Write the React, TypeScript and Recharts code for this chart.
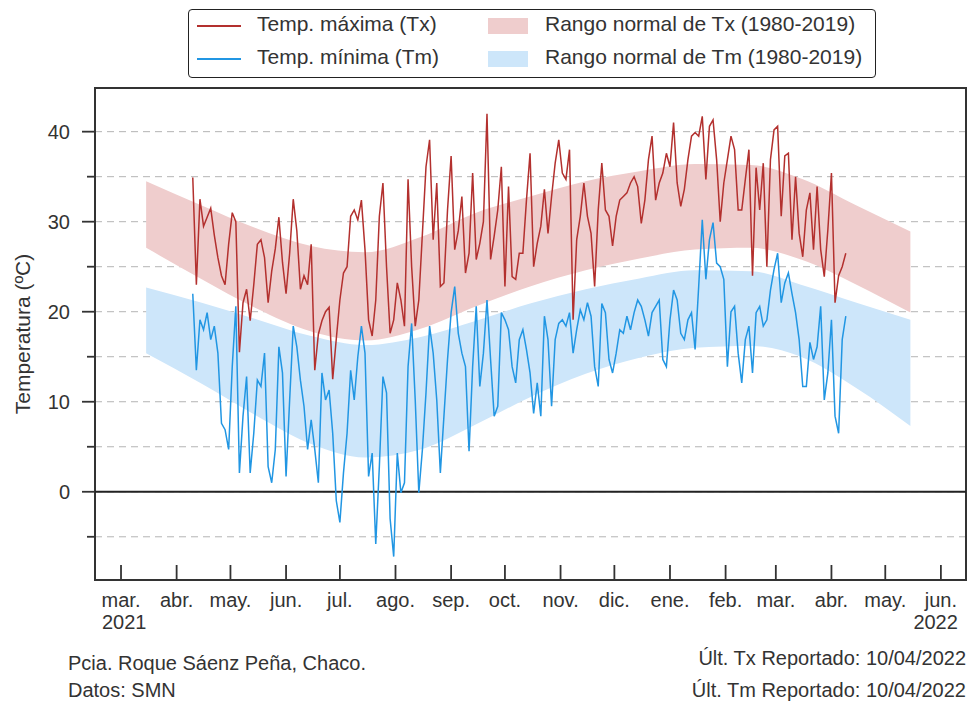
import React from 'react';
import { ComposedChart, Line, Area, XAxis, YAxis, CartesianGrid, ReferenceLine, ReferenceArea } from 'recharts';

// daily observations, sampled every 2 days from the first report
const SERIES_START = '2021-04-10';
const STEP_DAYS = 2;

const TX = [
  34.9, 23, 32.5, 29.5, 30.5, 31.5, 28.5, 26, 24, 23,
  27.5, 31, 30, 15.5, 21, 22.5, 19, 23, 27.5, 28,
  26, 21, 24.5, 27, 30.5, 25.5, 22, 26.5, 32.5, 29,
  22.5, 24, 23, 27.5, 13.5, 17.5, 19, 20,
  20.5, 12.5, 17, 21.3, 24.3, 25, 30.6, 31.3, 30.2, 32.4,
  26.9, 19.1, 17.3, 21.3, 30.6, 34.3, 25, 17.6, 19.1, 23.2,
  21.3, 18.4, 34.7, 25, 18.4, 21.3, 28.7, 36.1, 39.1, 28,
  34.3, 22.8, 23.2, 31.3, 37.3, 26.9,
  29, 32.8, 24.3, 26.5, 35.4, 25.8, 27.6, 30, 42, 25.8,
  28.4, 31.3, 36.1, 22.8, 33.9, 23.9, 23.6, 26.5, 26.5, 32.4,
  37.6, 25, 27.6, 29.5, 33.6, 28.7, 32.8, 36.5, 39.1, 35.4,
  34.7, 38, 19.1, 28, 30.6, 34.3, 30.6,
  28.7, 22.8, 31.3, 36.5, 31.3, 30.6, 27.3, 30.6, 32.4, 32.8,
  33.2, 34.3, 35, 33.9, 29.8, 32.4, 36.9, 39.5, 32.4, 34.3,
  35.4, 37.6, 36.1, 41, 34.3, 31.7, 33.6, 36.9, 39.5, 39.9,
  39.5, 41.7, 34.7, 40.6, 41.3, 36.9,
  30, 34.3, 36.9, 39.5, 38, 31.3, 31.3, 34.7, 38, 24,
  36, 31.3, 36.5, 25, 36.9, 40.2, 40.6, 30.6, 37.3, 37.6,
  28, 35, 28.7, 26.1, 31.3, 33.2, 26.9, 33.9, 26.9, 23.9,
  29.1, 35.4, 21, 24, 25, 26.5,
];

const TM = [
  22, 13.5, 19.1, 18, 19.9, 16.9, 18.4, 15.4, 7.6, 6.9,
  4.7, 13.9, 20.6, 2.1, 8.4, 12.8, 2.1, 6.5, 12.4, 11.7,
  15.4, 2.8, 1, 4.7, 16.1, 13.2, 1.7, 10.2, 18.4, 16.1,
  12.4, 9.5, 4.7, 8, 4.7, 1, 13.2, 10.2,
  11.3, 6.5, -1, -3.4, 2.1, 6.5, 13.5, 10.2, 15, 18.4,
  15.4, 1.7, 4.3, -5.8, 2.8, 12.8, 11, -3, -7.2, 4.3,
  -0.1, 1, 13.9, 18.7, 10.2, -0.1, 4.7, 11, 18.4, 15.4,
  10.2, 2.1, 8.4, 14.7, 19.9, 22.8,
  17.6, 15.4, 13.9, 4.5, 13.9, 20.6, 11.7, 15.4, 21.3, 14.7,
  8.4, 9.5, 19.9, 19.1, 18, 13.9, 12.1, 16.9, 18, 15.8,
  13.2, 8.7, 12.1, 8.4, 19.5, 16.9, 9.5, 16.9, 18.7, 19.1,
  18.4, 19.9, 15.4, 18, 20.2, 19.1, 21,
  19.5, 13.9, 11.7, 20.9, 19.9, 14.7, 13.2, 15.4, 18, 17.6,
  19.5, 18, 19.9, 21.3, 20.6, 19.1, 17.3, 19.9, 20.6, 21.3,
  14.7, 13.9, 19.1, 22.4, 21.3, 17.6, 16.9, 19.1, 19.9, 15.8,
  22.8, 30.2, 23.6, 28, 29.9, 25.4,
  25, 23.6, 13.9, 20, 20.6, 15.4, 12.1, 16.9, 18.4, 13.2,
  19.9, 20.6, 18.4, 19.1, 22.4, 24.7, 26.5, 21, 23.2, 24.3,
  22, 19.9, 16.9, 11.7, 11.7, 16.6, 14.7, 16.1, 20.6, 10.2,
  13.2, 19.1, 8.4, 6.5, 16.9, 19.5,
];

// normal ranges 1980-2019, mid-month
const NORMAL_DATES = [
  '2021-03-15', '2021-04-15', '2021-05-15', '2021-06-15', '2021-07-15', '2021-08-15',
  '2021-09-15', '2021-10-15', '2021-11-15', '2021-12-15', '2022-01-15', '2022-02-15',
  '2022-03-15', '2022-04-15', '2022-05-15',
];
const TX_NORMAL_HI = [34.5, 31.8, 29.3, 27.3, 26.6, 28.3, 31, 32.8, 34.5, 35.6, 36.4, 36.3, 34.8, 31.8, 28.9];
const TX_NORMAL_LO = [27.1, 23.6, 20.4, 17.8, 16.8, 18.1, 20.6, 22.8, 24.6, 25.9, 26.9, 27.1, 25.8, 23, 19.9];
const TM_NORMAL_HI = [22.7, 21, 19.2, 17.3, 16.3, 17.2, 19, 20.9, 22.5, 23.7, 24.6, 24.5, 23, 21, 19.1];
const TM_NORMAL_LO = [15.4, 12, 8.5, 5.3, 3.8, 4.7, 7.5, 10.5, 13.1, 14.9, 16, 16.2, 15, 11.5, 7.3];

const MONTH_TICKS = [
  '2021-03-01', '2021-04-01', '2021-05-01', '2021-06-01', '2021-07-01', '2021-08-01',
  '2021-09-01', '2021-10-01', '2021-11-01', '2021-12-01', '2022-01-01', '2022-02-01',
  '2022-03-01', '2022-04-01', '2022-05-01', '2022-06-01',
];
const MONTH_LABELS = ['mar.', 'abr.', 'may.', 'jun.', 'jul.', 'ago.', 'sep.', 'oct.', 'nov.', 'dic.', 'ene.', 'feb.', 'mar.', 'abr.', 'may.', 'jun.'];
const Y_TICKS = [-5, 0, 5, 10, 15, 20, 25, 30, 35, 40];

const FONT = '"Liberation Sans", Arial, Helvetica, sans-serif';
const INK = '#333333';
const TX_COLOR = '#b3302e';
const TM_COLOR = '#2196e3';
const TX_BAND = '#efcdcd';
const TM_BAND = '#cde6fa';

const PLOT_LEFT = 95;
const PLOT_BOTTOM = 580;
const X_DOMAIN = [-14.5, 471];
const Y_DOMAIN = [-9.8, 44.85];

const ORIGIN = Date.UTC(2021, 2, 1);
const dayOf = (iso: string) => Math.round((Date.parse(iso) - ORIGIN) / 86400000);

const firstDay = dayOf(SERIES_START);
const obsData = TX.map((tx, i) => ({ day: firstDay + i * STEP_DAYS, tx, tm: TM[i] }));
const normalData = NORMAL_DATES.map((d, i) => ({
  day: dayOf(d),
  txRange: [TX_NORMAL_LO[i], TX_NORMAL_HI[i]],
  tmRange: [TM_NORMAL_LO[i], TM_NORMAL_HI[i]],
}));
const monthDays = MONTH_TICKS.map(dayOf);

const MonthTick = (props: any) => {
  const { x, payload } = props;
  const i = monthDays.indexOf(payload.value);
  return (
    <g>
      <line x1={x} x2={x} y1={PLOT_BOTTOM} y2={PLOT_BOTTOM - 15} stroke={INK} strokeWidth={1.8} />
      <text x={x} y={607} textAnchor="middle" fontSize={20} fill={INK} fontFamily={FONT}>{MONTH_LABELS[i]}</text>
      {i === 0 && (
        <text x={x - 19} y={629} textAnchor="start" fontSize={20} fill={INK} fontFamily={FONT}>2021</text>
      )}
      {i === MONTH_TICKS.length - 1 && (
        <text x={x + 17} y={629} textAnchor="end" fontSize={20} fill={INK} fontFamily={FONT}>2022</text>
      )}
    </g>
  );
};

const TempTick = (props: any) => {
  const { y, payload } = props;
  const major = payload.value % 10 === 0;
  return (
    <g>
      <line x1={PLOT_LEFT} x2={PLOT_LEFT - (major ? 13 : 8)} y1={y} y2={y} stroke={INK} strokeWidth={1.8} />
      {major && (
        <text x={70} y={y} textAnchor="end" dominantBaseline="central" fontSize={20} fill={INK} fontFamily={FONT}>
          {payload.value}
        </text>
      )}
    </g>
  );
};

const textStyle: React.CSSProperties = {
  position: 'absolute',
  fontSize: 20,
  color: INK,
  whiteSpace: 'nowrap',
  lineHeight: '24px',
};

export default function App() {
  return (
    <div style={{ position: 'absolute', left: 0, top: 0, width: 972, height: 704, background: '#fff', fontFamily: FONT }}>
      <ComposedChart width={972} height={704} margin={{ top: 88, right: 6, bottom: 0, left: 0 }}>
        <CartesianGrid vertical={false} strokeDasharray="7 5" stroke="#b4b4b4" strokeWidth={1} />
        <XAxis
          type="number"
          dataKey="day"
          domain={X_DOMAIN}
          ticks={monthDays}
          interval={0}
          allowDataOverflow
          height={124}
          axisLine={false}
          tickLine={false}
          tick={<MonthTick />}
        />
        <YAxis
          type="number"
          domain={Y_DOMAIN}
          ticks={Y_TICKS}
          interval={0}
          allowDataOverflow
          width={95}
          axisLine={false}
          tickLine={false}
          tick={<TempTick />}
        />
        <Area
          data={normalData}
          dataKey="txRange"
          type="monotone"
          stroke="none"
          fill={TX_BAND}
          fillOpacity={1}
          isAnimationActive={false}
        />
        <Area
          data={normalData}
          dataKey="tmRange"
          type="monotone"
          stroke="none"
          fill={TM_BAND}
          fillOpacity={1}
          isAnimationActive={false}
        />
        <ReferenceLine y={0} stroke="#222" strokeWidth={2} />
        <Line data={obsData} dataKey="tx" type="linear" stroke={TX_COLOR} strokeWidth={1.5} dot={false} isAnimationActive={false} />
        <Line data={obsData} dataKey="tm" type="linear" stroke={TM_COLOR} strokeWidth={1.5} dot={false} isAnimationActive={false} />
        <ReferenceArea x1={X_DOMAIN[0]} x2={X_DOMAIN[1]} y1={Y_DOMAIN[0]} y2={Y_DOMAIN[1]} fill="none" stroke={INK} strokeWidth={2} ifOverflow="extendDomain" />
      </ComposedChart>

      {/* legend */}
      <div style={{ position: 'absolute', left: 188, top: 9, width: 688, height: 69, border: '1.5px solid #222', borderRadius: 4, boxSizing: 'border-box', background: '#fff' }}>
        <div style={{ position: 'absolute', left: 8, top: 15, width: 44, height: 1.5, background: TX_COLOR }} />
        <div style={{ ...textStyle, fontSize: 21, left: 68, top: 2 }}>Temp. máxima (Tx)</div>
        <div style={{ position: 'absolute', left: 8, top: 48, width: 44, height: 1.5, background: TM_COLOR }} />
        <div style={{ ...textStyle, fontSize: 21, left: 68, top: 35 }}>Temp. mínima (Tm)</div>
        <div style={{ position: 'absolute', left: 299, top: 8, width: 40, height: 16, background: TX_BAND }} />
        <div style={{ ...textStyle, fontSize: 21, left: 356, top: 2 }}>Rango normal de Tx (1980-2019)</div>
        <div style={{ position: 'absolute', left: 299, top: 41, width: 40, height: 16, background: TM_BAND }} />
        <div style={{ ...textStyle, fontSize: 21, left: 356, top: 35 }}>Rango normal de Tm (1980-2019)</div>
      </div>

      {/* y label */}
      <div style={{ ...textStyle, fontSize: 21, left: 23, top: 334, transform: 'translate(-50%, -50%) rotate(-90deg)' }}>
        Temperatura (ºC)
      </div>

      {/* footer */}
      <div style={{ ...textStyle, left: 68, top: 651 }}>Pcia. Roque Sáenz Peña, Chaco.</div>
      <div style={{ ...textStyle, left: 68, top: 678 }}>Datos: SMN</div>
      <div style={{ ...textStyle, right: 6, top: 646, textAlign: 'right' }}>Últ. Tx Reportado: 10/04/2022</div>
      <div style={{ ...textStyle, right: 6, top: 678, textAlign: 'right' }}>Últ. Tm Reportado: 10/04/2022</div>
    </div>
  );
}
